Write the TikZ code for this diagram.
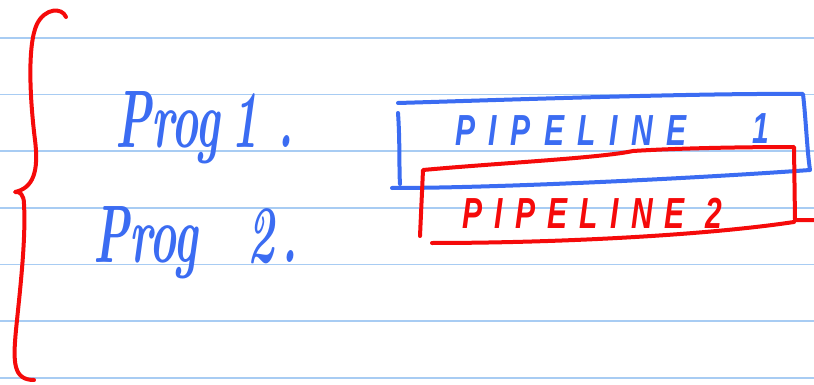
\documentclass[tikz,border=0pt]{standalone}
\usepackage{fontspec}
\usepackage{graphicx}
\newfontfamily\capsfont{Liberation Sans}[LetterSpace=45]
\newfontfamily\capsfonttight{Liberation Sans}[LetterSpace=41]
\definecolor{ruleblue}{HTML}{A8CCF3}
\definecolor{penblue}{HTML}{3B6CF2}
\definecolor{penred}{HTML}{F50A0A}
\newcommand\tallprog[1]{\scalebox{0.95}[1.7]{#1}}
\newcommand\tallcaps[1]{\scalebox{1}[1.45]{#1}}
\begin{document}
\begin{tikzpicture}[x=1pt,y=-1pt,line cap=round,line join=round,
  rule/.style={draw=ruleblue,line width=1.8pt,line cap=butt},
  bluepen/.style={draw=penblue,line width=4pt},
  redpen/.style={draw=penred,line width=4pt},
  progtext/.style={inner sep=0pt,text=penblue,font=\fontsize{48}{50}\selectfont\bfseries\itshape},
  captext/.style={inner sep=0pt,font=\capsfont\fontsize{30}{32}\selectfont\bfseries\itshape},
  captexttight/.style={inner sep=0pt,font=\capsfonttight\fontsize{30}{32}\selectfont\bfseries\itshape}]
\useasboundingbox (0,0) rectangle (814,385);
\fill[white] (0,0) rectangle (814,385);

% ruled paper
\foreach \y in {38,94.5,151,208,264.5,321,378}
  \draw[rule] (0,\y) -- (814,\y);

% curly brace on the left
\draw[redpen] (66,17) .. controls (62,7) and (45,8) .. (37,24)
  .. controls (27,45) and (30,100) .. (35,140)
  .. controls (39,172) and (33,188) .. (15,192)
  .. controls (20,191) and (24,195) .. (24,204)
  .. controls (26,240) and (20,290) .. (16,330)
  .. controls (13,362) and (13,380) .. (34,380);

% program labels
\node[progtext,anchor=base west] (prog1) at (115,148) {\tallprog{Prog\hspace{12pt}1\hspace{20pt}.}};
\node[progtext,anchor=base west] (prog2) at (93,262) {\tallprog{Prog\hspace{52pt}2\hspace{8pt}.}};

% first pipeline box
\draw[bluepen] (398,103) .. controls (500,100) and (700,93) .. (803,94)
  .. controls (806,120) and (807,150) .. (810,170)
  .. controls (700,178) and (500,188) .. (392,188);
\draw[bluepen] (398,113) .. controls (400,140) and (399,170) .. (400,184);
\node[captext,text=penblue,anchor=base west] (pipe1) at (455,146) {\tallcaps{PIPELINE}};
\node[captext,text=penblue,anchor=base west] (pipe1num) at (752,143) {\tallcaps{1}};

% second pipeline box
\draw[redpen] (420,236) -- (423,170)
  .. controls (500,163) and (600,158) .. (633,151)
  .. controls (680,148) and (750,147) .. (794,147)
  -- (795,220) -- (814,220);
\draw[redpen] (432,243) .. controls (550,243) and (700,236) .. (794,222);
\node[captexttight,text=penred,anchor=base west] (pipe2) at (462,228) {\tallcaps{PIPELINE 2}};
\end{tikzpicture}
\end{document}
